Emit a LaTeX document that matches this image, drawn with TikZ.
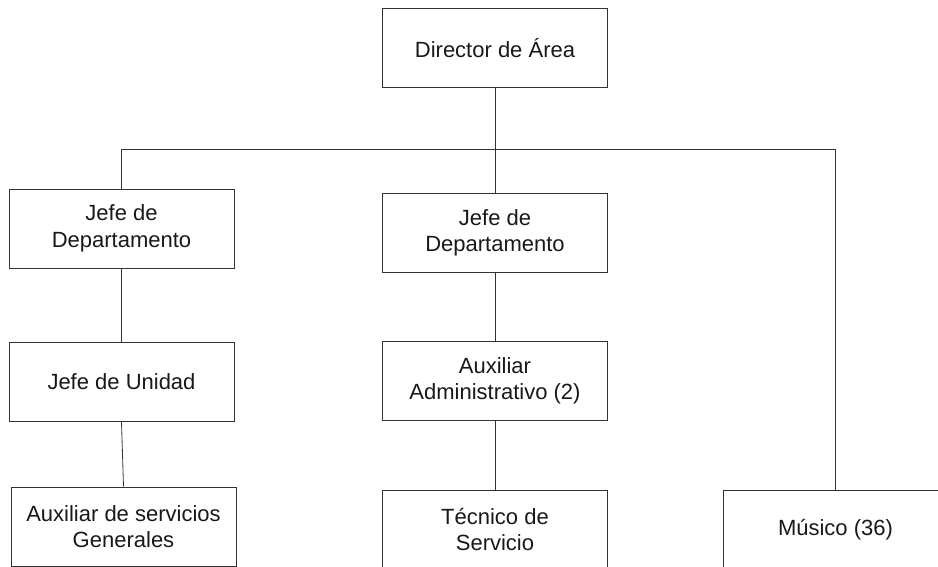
\documentclass[tikz,border=0pt]{standalone}
\usepackage{fontspec}
\setmainfont{Liberation Sans}
\usepackage{tikz}

\begin{document}
\begin{tikzpicture}[x=1pt,y=-1pt,
  puesto/.style={draw=black!80,line width=0.8pt,fill=white,text=black!90,
    minimum width=225pt,minimum height=79pt,align=center,
    font=\fontsize{22}{26.5}\selectfont},
  enlace/.style={draw=black!80,line width=0.8pt}]
\useasboundingbox (0,0) rectangle (938,566);
\clip (0,0) rectangle (938,566);
\coordinate (bus) at (0,149);
\node[puesto] (dir) at (495,48) {Director de Área};
\node[puesto] (jd1) at (121.5,228.5) {Jefe de\\Departamento};
\node[puesto] (jd2) at (495,233) {Jefe de\\Departamento};
\node[puesto] (ju) at (121.5,381.5) {Jefe de Unidad};
\node[puesto] (aa) at (495,381) {Auxiliar\\Administrativo (2)};
\node[puesto] (as) at (123.5,526.5) {Auxiliar de servicios\\Generales};
\node[puesto] (tec) at (495,529.5) {Técnico de\\Servicio};
\node[puesto] (mus) at (835.5,529.5) {Músico (36)};
% lineas
\draw[enlace] (dir.south) -- (jd2.north);
\draw[enlace] (jd1.north) |- (mus.north |- bus) -- (mus.north);
\draw[enlace] (jd1.south) -- (ju.north);
\draw[enlace] (ju.south) -- (as.north);
\draw[enlace] (jd2.south) -- (aa.north);
\draw[enlace] (aa.south) -- (tec.north);
\end{tikzpicture}
\end{document}
